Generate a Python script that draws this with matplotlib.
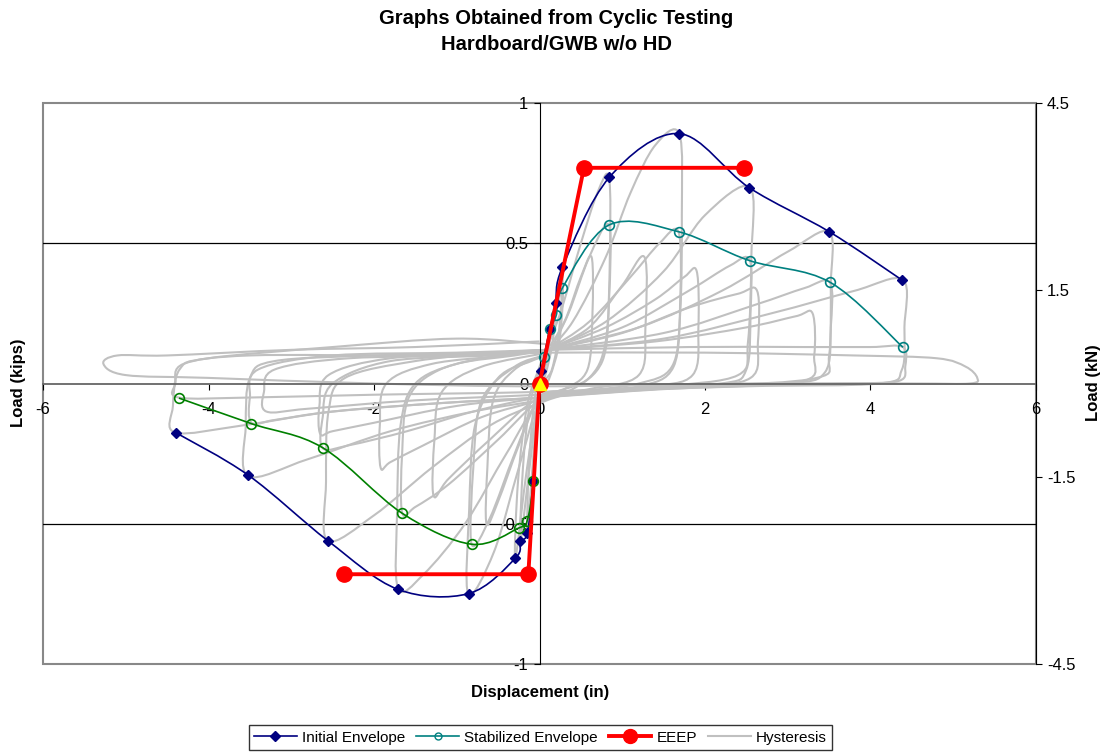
import numpy as np
import matplotlib
matplotlib.use("Agg")
import matplotlib.pyplot as plt
from matplotlib.path import Path
from matplotlib.patches import PathPatch, Rectangle
from matplotlib.lines import Line2D

plt.rcParams["font.family"] = ["Liberation Sans", "DejaVu Sans"]

# envelopes (displacement in, load kips)
INIT_POS_X = [0, 0.02, 0.127, 0.195, 0.276, 0.844, 1.686, 2.535, 3.502, 4.385]
INIT_POS_Y = [0, 0.046, 0.194, 0.288, 0.414, 0.735, 0.891, 0.698, 0.541, 0.368]
INIT_NEG_X = [0, -0.075, -0.147, -0.232, -0.292, -0.856, -1.710, -2.556, -3.519, -4.397]
INIT_NEG_Y = [0, -0.347, -0.532, -0.563, -0.623, -0.749, -0.734, -0.561, -0.327, -0.175]
STAB_POS_X = [0, 0.058, 0.127, 0.203, 0.276, 0.840, 1.682, 2.540, 3.511, 4.393]
STAB_POS_Y = [0, 0.094, 0.194, 0.244, 0.340, 0.565, 0.541, 0.438, 0.361, 0.129]
STAB_NEG_X = [0, -0.075, -0.150, -0.250, -0.820, -1.658, -2.620, -3.483, -4.357]
STAB_NEG_Y = [0, -0.347, -0.490, -0.515, -0.573, -0.463, -0.229, -0.143, -0.052]
EEEP_X = [-2.362, -0.135, 0, 0.537, 2.471]
EEEP_Y = [-0.680, -0.680, 0, 0.769, 0.769]

# hysteresis cycles, points traced by eye
LOOP_A = [(0, 0.02), (0.06, 0.1), (0.127, 0.194), (0.11, 0.12), (0.05, 0.03), (0, -0.04),
          (-0.04, -0.18), (-0.075, -0.347), (-0.06, -0.2), (-0.02, -0.05), (0.02, 0.03)]
LOOP_B = [(0.02, 0.03), (0.1, 0.15), (0.195, 0.288), (0.16, 0.15), (0.08, 0.04), (0, -0.04),
          (-0.08, -0.28), (-0.147, -0.532), (-0.13, -0.3), (-0.07, -0.08), (0, 0.04)]
LOOP_C = [(0, 0.04), (0.12, 0.18), (0.276, 0.414), (0.24, 0.2), (0.15, 0.05), (0, -0.03),
          (-0.12, -0.3), (-0.232, -0.563), (-0.2, -0.3), (-0.12, -0.08), (0, 0.05)]
LOOP_D = [(0, 0.05), (0.15, 0.2), (0.28, 0.34), (0.24, 0.15), (0.12, 0.02), (0, -0.04),
          (-0.15, -0.3), (-0.292, -0.623), (-0.26, -0.35), (-0.15, -0.08), (0, 0.06)]
LOOP_E = [(0, 0.06), (0.25, 0.25), (0.5, 0.5), (0.7, 0.68), (0.84, 0.735), (0.85, 0.45),
          (0.8, 0.15), (0.6, 0.02), (0.2, -0.03), (0, -0.06), (-0.25, -0.3), (-0.55, -0.6),
          (-0.86, -0.75), (-0.85, -0.45), (-0.78, -0.15), (-0.5, 0.02), (-0.1, 0.08), (0.1, 0.1)]
LOOP_F = [(0.1, 0.1), (0.35, 0.25), (0.6, 0.45), (0.84, 0.565), (0.84, 0.3), (0.76, 0.08),
          (0.4, -0.02), (0, -0.05), (-0.3, -0.25), (-0.6, -0.48), (-0.82, -0.573),
          (-0.8, -0.3), (-0.7, -0.06), (-0.3, 0.06), (0.05, 0.1)]
LOOP_Q = [(0.05, 0.1), (0.3, 0.22), (0.5, 0.38), (0.63, 0.45), (0.64, 0.25), (0.58, 0.05),
          (0.3, -0.02), (0, -0.05), (-0.25, -0.22), (-0.5, -0.42), (-0.64, -0.5),
          (-0.63, -0.3), (-0.56, -0.06), (-0.3, 0.05), (0.05, 0.1)]
LOOP_G = [(0.05, 0.1), (0.4, 0.22), (0.8, 0.45), (1.1, 0.68), (1.4, 0.85), (1.69, 0.89),
          (1.72, 0.6), (1.7, 0.25), (1.6, 0.06), (1.2, 0.0), (0.5, -0.03), (0, -0.07),
          (-0.4, -0.25), (-0.9, -0.5), (-1.4, -0.68), (-1.71, -0.73), (-1.72, -0.45),
          (-1.68, -0.15), (-1.5, 0.0), (-1.0, 0.07), (-0.3, 0.1), (0.1, 0.12)]
LOOP_H = [(0.1, 0.12), (0.6, 0.22), (1.1, 0.38), (1.45, 0.5), (1.68, 0.54), (1.7, 0.3),
          (1.62, 0.06), (1.2, -0.01), (0.4, -0.03), (0, -0.06), (-0.5, -0.2), (-1.1, -0.36),
          (-1.5, -0.44), (-1.66, -0.46), (-1.66, -0.25), (-1.58, -0.05), (-1.2, 0.05),
          (-0.5, 0.1), (0.1, 0.12)]
LOOP_I = [(0.1, 0.12), (0.6, 0.2), (1.0, 0.35), (1.27, 0.45), (1.28, 0.2), (1.2, 0.03),
          (0.6, -0.02), (0, -0.05), (-0.6, -0.2), (-1.1, -0.34), (-1.28, -0.4), (-1.27, -0.2),
          (-1.18, -0.03), (-0.7, 0.06), (0.1, 0.11)]
LOOP_J = [(0.1, 0.12), (0.8, 0.22), (1.5, 0.4), (2.0, 0.6), (2.54, 0.70), (2.56, 0.45),
          (2.52, 0.15), (2.4, 0.03), (1.5, -0.01), (0.5, -0.03), (0, -0.07), (-0.6, -0.15),
          (-1.3, -0.3), (-2.0, -0.47), (-2.56, -0.56), (-2.58, -0.35), (-2.55, -0.1),
          (-2.35, 0.02), (-1.5, 0.08), (-0.5, 0.11), (0.1, 0.12)]
LOOP_K = [(0.1, 0.12), (1.0, 0.2), (1.8, 0.33), (2.3, 0.42), (2.54, 0.44), (2.55, 0.25),
          (2.5, 0.05), (2.2, 0.0), (1.0, -0.02), (0, -0.05), (-0.8, -0.1), (-1.6, -0.17),
          (-2.3, -0.22), (-2.62, -0.23), (-2.62, -0.12), (-2.5, 0.0), (-1.8, 0.08),
          (-0.6, 0.1), (0.1, 0.12)]
LOOP_R = [(0.1, 0.12), (0.8, 0.2), (1.4, 0.3), (1.75, 0.38), (1.9, 0.4), (1.92, 0.2),
          (1.85, 0.03), (1.3, -0.01), (0.3, -0.03), (0, -0.06), (-0.7, -0.12), (-1.4, -0.22),
          (-1.8, -0.28), (-1.92, -0.3), (-1.93, -0.15), (-1.85, 0.0), (-1.3, 0.07),
          (-0.4, 0.1), (0.1, 0.12)]
LOOP_L = [(0.1, 0.12), (1.2, 0.2), (2.2, 0.33), (3.0, 0.47), (3.5, 0.54), (3.52, 0.35),
          (3.5, 0.1), (3.35, 0.02), (2.0, -0.01), (0.5, -0.03), (0, -0.06), (-0.8, -0.1),
          (-1.8, -0.17), (-2.8, -0.27), (-3.52, -0.33), (-3.55, -0.15), (-3.5, 0.02),
          (-3.2, 0.08), (-2.0, 0.1), (-0.5, 0.11), (0.1, 0.12)]
LOOP_M = [(0.1, 0.12), (1.5, 0.18), (2.6, 0.28), (3.2, 0.34), (3.51, 0.36), (3.52, 0.2),
          (3.45, 0.04), (3.0, 0.0), (1.5, -0.02), (0, -0.05), (-1.2, -0.07), (-2.5, -0.1),
          (-3.2, -0.13), (-3.48, -0.14), (-3.5, -0.05), (-3.4, 0.05), (-2.5, 0.1),
          (-1.0, 0.11), (0.1, 0.12)]
LOOP_S = [(0.1, 0.12), (1.0, 0.18), (1.8, 0.27), (2.4, 0.32), (2.63, 0.33), (2.64, 0.15),
          (2.55, 0.02), (1.8, -0.01), (0, -0.05), (-1.0, -0.08), (-2.0, -0.14), (-2.5, -0.17),
          (-2.65, -0.18), (-2.66, -0.08), (-2.55, 0.03), (-1.8, 0.09), (-0.5, 0.11), (0.1, 0.12)]
LOOP_N = [(0.1, 0.12), (1.5, 0.16), (2.8, 0.25), (3.8, 0.33), (4.39, 0.37), (4.41, 0.2),
          (4.38, 0.05), (4.1, 0.0), (2.5, -0.01), (0.5, -0.03), (0, -0.05), (-1.2, -0.07),
          (-2.5, -0.1), (-3.6, -0.15), (-4.40, -0.175), (-4.43, -0.08), (-4.35, 0.05),
          (-4.0, 0.09), (-2.5, 0.13), (-1.0, 0.16), (0.1, 0.14)]
LOOP_T = [(0.1, 0.12), (1.4, 0.15), (2.5, 0.2), (3.1, 0.24), (3.3, 0.25), (3.32, 0.1),
          (3.2, 0.01), (2.0, -0.01), (0, -0.04), (-1.5, -0.06), (-2.8, -0.09), (-3.3, -0.1),
          (-3.33, -0.03), (-3.2, 0.05), (-2.3, 0.09), (-0.8, 0.1), (0.1, 0.12)]
LOOP_O = [(0.1, 0.12), (1.8, 0.13), (3.2, 0.13), (4.0, 0.13), (4.39, 0.13), (4.42, 0.06),
          (4.35, 0.01), (3.8, 0.0), (2.0, -0.01), (0, -0.03), (-2.0, -0.04), (-3.5, -0.05),
          (-4.36, -0.05), (-4.4, 0.0), (-4.3, 0.07), (-3.5, 0.1), (-1.5, 0.1), (0.1, 0.11)]
LOOP_P = [(0.1, 0.11), (2.0, 0.11), (3.8, 0.1), (4.8, 0.09), (5.15, 0.06), (5.29, 0.02),
          (5.2, 0.0), (4.5, 0.0), (2.5, 0.0), (0, -0.01), (-2.0, 0.0), (-4.0, 0.02),
          (-5.0, 0.03), (-5.27, 0.07), (-5.1, 0.1), (-4.5, 0.1), (-3.0, 0.12), (-1.5, 0.13),
          (0.0, 0.15)]
HYSTERESIS = [LOOP_A, LOOP_B, LOOP_C, LOOP_D, LOOP_E, LOOP_F, LOOP_Q, LOOP_G, LOOP_H,
              LOOP_I, LOOP_J, LOOP_K, LOOP_R, LOOP_L, LOOP_M, LOOP_S, LOOP_N, LOOP_T,
              LOOP_O, LOOP_P]

NAVY, TEAL, GREEN, GREY = "#000080", "#008080", "#008000", "#C0C0C0"


def smooth_path(xs, ys):
    # Excel-style smoothed line: Catmull-Rom segments drawn as cubic Beziers
    p = np.column_stack([xs, ys]).astype(float)
    verts, codes = [p[0]], [Path.MOVETO]
    for i in range(len(p) - 1):
        p0 = p[i - 1] if i > 0 else p[i]
        p3 = p[i + 2] if i + 2 < len(p) else p[i + 1]
        verts += [p[i] + (p[i + 1] - p0) / 6, p[i + 1] - (p3 - p[i]) / 6, p[i + 1]]
        codes += [Path.CURVE4] * 3
    return Path(verts, codes)


def smooth_line(ax, xs, ys, color, lw, z):
    ax.add_patch(PathPatch(smooth_path(xs, ys), fill=False, edgecolor=color, lw=lw, zorder=z))


fig = plt.figure(figsize=(11.06, 7.53), dpi=100)
ax = fig.add_axes([0.0389, 0.1182, 0.8978, 0.7450])
ax.set_xlim(-6, 6)
ax.set_ylim(-1, 1)

for loop in HYSTERESIS:
    lx, ly = zip(*loop)
    smooth_line(ax, lx, ly, GREY, 1.5, 2)

ax.axhline(0.5, color="black", lw=0.9, zorder=1)
ax.axhline(-0.5, color="black", lw=0.9, zorder=1)

smooth_line(ax, INIT_POS_X, INIT_POS_Y, NAVY, 1.2, 4)
smooth_line(ax, INIT_NEG_X, INIT_NEG_Y, NAVY, 1.2, 4)
smooth_line(ax, STAB_POS_X, STAB_POS_Y, TEAL, 1.2, 4)
smooth_line(ax, STAB_NEG_X, STAB_NEG_Y, GREEN, 1.2, 4)
ax.plot(INIT_POS_X[1:], INIT_POS_Y[1:], ls="none", marker="D", ms=5.5, color=NAVY, zorder=5)
ax.plot(INIT_NEG_X[1:], INIT_NEG_Y[1:], ls="none", marker="D", ms=5.5, color=NAVY, zorder=5)
ax.plot(STAB_POS_X[1:], STAB_POS_Y[1:], ls="none", marker="o", ms=7, mfc="none",
        mec=TEAL, mew=1.2, zorder=5)
ax.plot(STAB_NEG_X[1:], STAB_NEG_Y[1:], ls="none", marker="o", ms=7, mfc="none",
        mec=GREEN, mew=1.2, zorder=5)
ax.plot(EEEP_X, EEEP_Y, color="red", lw=2.8, marker="o", ms=11, zorder=6)
ax.plot([0], [0], ls="none", marker="^", ms=8, color="yellow", zorder=7)

# axes cross at zero, plot area framed in grey
for s in ("top", "right"):
    ax.spines[s].set_visible(False)
ax.spines["left"].set_position(("data", 0))
ax.spines["left"].set_color("black")
ax.spines["bottom"].set_position(("data", 0))
ax.spines["bottom"].set_color("#666666")
ax.spines["bottom"].set_linewidth(1.3)
ax.add_patch(Rectangle((0, 0), 1, 1, transform=ax.transAxes, fill=False,
                       edgecolor="#888888", lw=1.5, zorder=0, clip_on=False))

ax.set_xticks([-6, -4, -2, 0, 2, 4, 6])
ax.set_xticklabels(["-6", "-4", "-2", "0", "2", "4", "6"])
ax.set_yticks([-1, -0.5, 0, 0.5, 1])
ax.set_yticklabels(["-1", "-0.5", "0", "0.5", "1"])
ax.tick_params(axis="x", direction="out", length=4, pad=9, labelsize=12)
ax.tick_params(axis="y", direction="out", length=4, pad=4, labelsize=12)

ax2 = ax.twinx()
ax2.set_ylim(-4.5, 4.5)
ax2.set_yticks([-4.5, -1.5, 1.5, 4.5])
ax2.set_yticklabels(["-4.5", "-1.5", "1.5", "4.5"])
for s in ("top", "left", "bottom"):
    ax2.spines[s].set_visible(False)
ax2.spines["right"].set_color("black")
ax2.tick_params(axis="y", direction="out", length=4, pad=4, labelsize=12)

fig.text(0.503, 0.958, "Graphs Obtained from Cyclic Testing\nHardboard/GWB w/o HD",
         ha="center", va="center", fontsize=14.5, fontweight="bold", linespacing=1.45)
fig.text(0.488, 0.081, "Displacement (in)", ha="center", va="center",
         fontsize=12, fontweight="bold")
fig.text(0.0163, 0.4914, "Load (kips)", ha="center", va="center", rotation=90,
         fontsize=12, fontweight="bold")
fig.text(0.989, 0.4914, "Load (kN)", ha="center", va="center", rotation=90,
         fontsize=12, fontweight="bold")

handles = [Line2D([], [], color=NAVY, lw=1.2, marker="D", ms=5),
           Line2D([], [], color=TEAL, lw=1.2, marker="o", ms=5, mfc="none"),
           Line2D([], [], color="red", lw=2.8, marker="o", ms=10),
           Line2D([], [], color=GREY, lw=1.5)]
leg = fig.legend(handles, ["Initial Envelope", "Stabilized Envelope", "EEEP", "Hysteresis"],
                 loc="lower center", bbox_to_anchor=(0.4887, 0.004), ncol=4, fontsize=11,
                 frameon=True, fancybox=False, edgecolor="black", handlelength=2.8,
                 columnspacing=0.7, handletextpad=0.35, borderpad=0.35, borderaxespad=0)
leg.get_frame().set_linewidth(1.0)

fig.savefig("out.png", dpi=100)
